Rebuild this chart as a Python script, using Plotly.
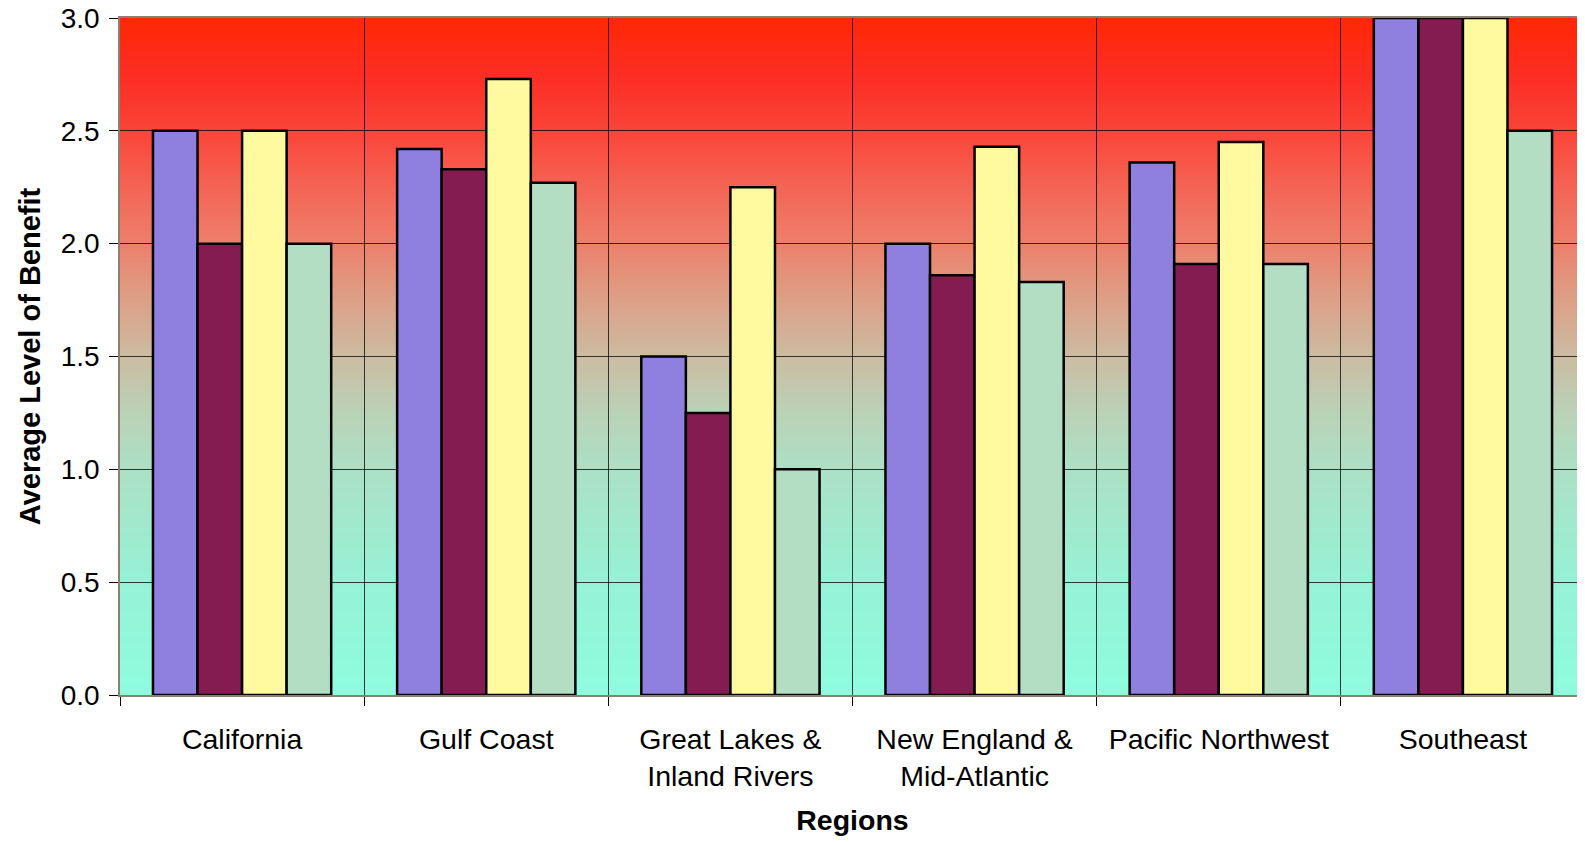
import plotly.graph_objects as go

regions = ["California", "Gulf Coast", "Great Lakes &<br>Inland Rivers",
           "New England &<br>Mid-Atlantic", "Pacific Northwest", "Southeast"]
series_names = ["Series 1", "Series 2", "Series 3", "Series 4"]
series1 = [2.50, 2.42, 1.50, 2.00, 2.36, 3.00]
series2 = [2.00, 2.33, 1.25, 1.86, 1.91, 3.00]
series3 = [2.50, 2.73, 2.25, 2.43, 2.45, 3.00]
series4 = [2.00, 2.27, 1.00, 1.83, 1.91, 2.50]
y_ticks = [0.0, 0.5, 1.0, 1.5, 2.0, 2.5, 3.0]

colors = ["#8F80E0", "#841C52", "#FFFAA0", "#B4DEC4"]
FONT = "Liberation Sans, Arial, sans-serif"

fig = go.Figure()
for name, vals, c in zip(series_names, [series1, series2, series3, series4], colors):
    fig.add_trace(go.Bar(x=regions, y=vals, name=name, marker_color=c,
                         marker_line_color="black", marker_line_width=2.5))

# background vertical gradient
stops = [(0.0, (143, 252, 222)), (0.5, (150, 242, 214)), (1.0, (172, 224, 198)),
         (1.25, (186, 210, 182)), (1.5, (203, 188, 162)), (1.75, (220, 160, 135)),
         (2.0, (236, 128, 108)), (2.25, (244, 100, 84)), (2.5, (250, 68, 56)),
         (2.75, (252, 45, 35)), (3.0, (255, 40, 5))]

def col_at(v):
    for (a, ca), (b, cb) in zip(stops[:-1], stops[1:]):
        if a <= v <= b:
            t = (v - a) / (b - a)
            return "rgb(%d,%d,%d)" % tuple(round(ca[i] + (cb[i] - ca[i]) * t) for i in range(3))
    return "rgb(%d,%d,%d)" % stops[-1][1]

n = 150
shapes = []
for i in range(n):
    y0 = 3.0 * i / n
    y1 = 3.0 * (i + 1) / n
    shapes.append(dict(type="rect", xref="paper", yref="y", x0=0, x1=1,
                       y0=y0, y1=min(3.0, y1 + 0.01), fillcolor=col_at((y0 + y1) / 2),
                       line=dict(width=0), layer="below"))

# page body has an 8px margin, so the figure is sized/offset to compensate
fig.update_layout(
    width=1577, height=834,
    margin=dict(l=112, r=0, t=10, b=147, autoexpand=False),
    paper_bgcolor="white", plot_bgcolor="white",
    barmode="group", bargap=0.27, bargroupgap=0,
    showlegend=False,
    shapes=shapes,
    font=dict(family=FONT, size=28, color="black"),
)
fig.update_xaxes(
    automargin=False,
    tickson="boundaries", ticks="outside", ticklen=9, tickcolor="black",
    showgrid=True, gridcolor="rgba(0,0,0,0.75)", gridwidth=1,
    showline=True, linecolor="#8a8070", linewidth=2, mirror=True,
    ticklabelstandoff=18, ticklabeloverflow="allow",
    tickfont=dict(family=FONT, size=28.5),
    title=dict(text="<b>Regions</b>", standoff=19, font=dict(family=FONT, size=28.5)),
)
fig.update_yaxes(
    automargin=False,
    range=[0, 3], tickvals=y_ticks, ticktext=["%.1f" % v for v in y_ticks],
    ticks="outside", ticklen=9, tickcolor="black",
    showgrid=True, gridcolor="rgba(0,0,0,0.75)", gridwidth=1,
    zeroline=False, showline=True, linecolor="#8a8070", linewidth=1.5,
    ticklabelstandoff=4, ticklabeloverflow="allow",
    tickfont=dict(family=FONT, size=28),
    title=dict(text="<b>Average Level of Benefit</b>", standoff=12,
               font=dict(family=FONT, size=29)),
)

fig.write_html("out.html")
